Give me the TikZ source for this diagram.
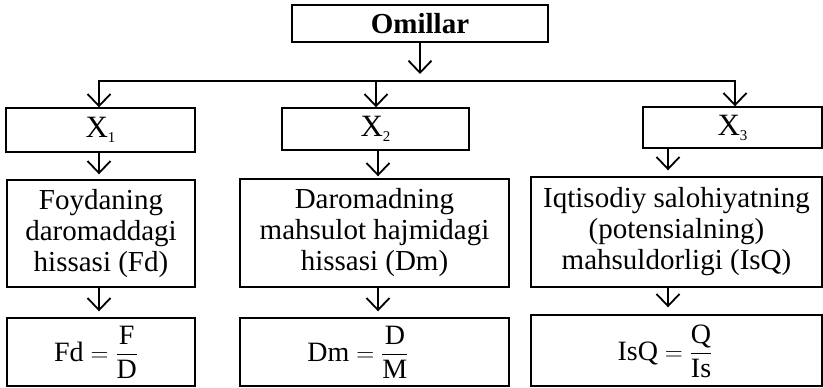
\documentclass[tikz,border=0pt]{standalone}
\usepackage{amsmath}
\usepackage{fontspec}
\setmainfont{Liberation Serif}
\usetikzlibrary{arrows.meta}
\newcommand{\xsub}[1]{X\raisebox{-5pt}{\fontsize{15}{15}\selectfont #1}}
\begin{document}
\begin{tikzpicture}[x=1pt,y=-1pt,
  box/.style={draw, line width=1.4pt, inner sep=0pt, align=center,
              font=\fontsize{29}{31}\selectfont},
  txt/.style={inner sep=0pt, align=center, font=\fontsize{28}{30}\selectfont},
  arr/.style={line width=1.8pt, -{Straight Barb[length=12pt,width=23pt,line width=1.8pt]}},
  bar/.style={line width=1.5pt, line cap=rect},
]
\useasboundingbox (0,0) rectangle (823,388);

% top box
\node[box, minimum width=256pt, minimum height=37pt, font=\fontsize{29}{30}\selectfont\bfseries] (om) at (420,23.5) {Omillar};

% X boxes
\node[box, minimum width=189pt, minimum height=44pt, font=\fontsize{31}{31}\selectfont] (x1) at (100.5,130) {\xsub{1}};
\node[box, minimum width=187pt, minimum height=42pt, font=\fontsize{31}{31}\selectfont] (x2) at (375.5,129) {\xsub{2}};
\node[box, minimum width=179pt, minimum height=41pt, font=\fontsize{31}{31}\selectfont] (x3) at (732.5,127.5) {\xsub{3}};

% description boxes
\node[box, minimum width=188pt, minimum height=107pt] (r1) at (101,233.5)
  {Foydaning\\daromaddagi\\hissasi (Fd)};
\node[box, minimum width=269pt, minimum height=108pt] (r2) at (374.5,233)
  {Daromadning\\mahsulot hajmidagi\\hissasi (Dm)};
\node[box, minimum width=291pt, minimum height=110pt] (r3) at (676.5,232)
  {Iqtisodiy salohiyatning\\(potensialning)\\mahsuldorligi (IsQ)};

% formula boxes
\node[box, minimum width=188pt, minimum height=68pt] (f1) at (101,352) {};
\node[box, minimum width=269pt, minimum height=68pt] (f2) at (374.5,352) {};
\node[box, minimum width=291pt, minimum height=71pt] (f3) at (676.5,350.5) {};
\node[txt] (f1t) at (96,352) {$\text{Fd} = \dfrac{\text{F}}{\text{D}}$};
\node[txt] (f2t) at (358,352) {$\text{Dm} = \dfrac{\text{D}}{\text{M}}$};
\node[txt] (f3t) at (665,351) {$\text{IsQ} = \dfrac{\text{Q}}{\text{Is}}$};

% connectors from top
\coordinate (omE) at (420,74);
\draw[arr] (om.south) -- (omE);
\coordinate (bL) at (99,81);
\coordinate (bM) at (376,81);
\coordinate (bR) at (735,81);
\draw[bar] (bL) -- (bR);
\draw[arr] (bL) -- (bL |- x1.north);
\draw[arr] (bM) -- (bM |- x2.north);
\draw[arr] (bR) -- (bR |- x3.north);

% column connectors
\coordinate (c1) at (99,0);
\coordinate (c2) at (378,0);
\coordinate (c3) at (668,0);
\draw[arr] (c1 |- x1.south) -- ([yshift=5pt]c1 |- r1.north);
\draw[arr] (c2 |- x2.south) -- ([yshift=2pt]c2 |- r2.north);
\draw[arr] (c3 |- x3.south) -- ([yshift=6pt]c3 |- r3.north);
\draw[arr] (c1 |- r1.south) -- ([yshift=6pt]c1 |- f1.north);
\draw[arr] (c2 |- r2.south) -- ([yshift=6pt]c2 |- f2.north);
\draw[arr] (c3 |- r3.south) -- ([yshift=7pt]c3 |- f3.north);
\end{tikzpicture}
\end{document}
